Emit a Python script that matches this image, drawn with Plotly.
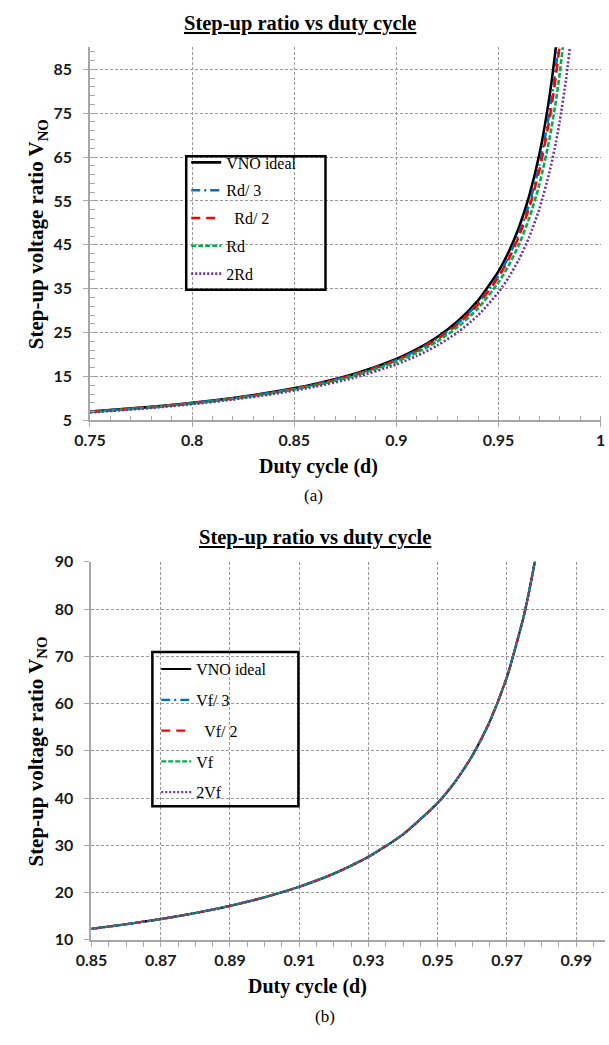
import plotly.graph_objects as go

# ---------------- data: panel (a) ----------------
d_a = [0.75, 0.78, 0.80, 0.82, 0.84, 0.86, 0.88, 0.90, 0.91, 0.92, 0.93, 0.94,
       0.95, 0.955, 0.96, 0.965, 0.97, 0.975, 0.978, 0.98, 0.983, 0.986, 0.99]
vno_ideal_a = [7.00, 8.09, 9.00, 10.11, 11.50, 13.29, 15.67, 19.00, 21.22, 24.00, 27.57, 32.33,
               39.00, 43.44, 49.00, 56.14, 65.67, 79.00, 89.91, 99.00, 116.6, 141.9, 199.0]
rd_third = [6.97, 8.05, 8.95, 10.05, 11.42, 13.18, 15.52, 18.78, 20.95, 23.65, 27.12, 31.72,
            38.11, 42.34, 47.61, 54.33, 63.20, 75.47, 85.37, 93.53, 109.1, 130.9, 178.2]
rd_half = [6.95, 8.03, 8.92, 10.01, 11.38, 13.12, 15.44, 18.67, 20.82, 23.49, 26.90, 31.42,
           37.68, 41.82, 46.95, 53.47, 62.05, 73.83, 83.28, 91.03, 105.8, 126.1, 169.4]
rd_one = [6.90, 7.96, 8.85, 9.92, 11.25, 12.96, 15.22, 18.36, 20.43, 22.99, 26.26, 30.55,
          36.45, 40.31, 45.06, 51.04, 58.81, 69.30, 77.57, 84.26, 96.73, 113.5, 147.4]
rd_double = [6.81, 7.84, 8.70, 9.73, 11.02, 12.65, 14.80, 17.76, 19.69, 22.07, 25.07, 28.96,
             34.21, 37.60, 41.70, 46.79, 53.24, 61.72, 68.21, 73.33, 82.63, 94.57, 117.1]

# ---------------- data: panel (b) ----------------
d_b = [0.85, 0.86, 0.87, 0.88, 0.89, 0.90, 0.91, 0.92, 0.93, 0.94, 0.95, 0.955,
       0.96, 0.965, 0.97, 0.975, 0.978, 0.98]
vno_ideal_b = [12.33, 13.29, 14.38, 15.67, 17.18, 19.00, 21.22, 24.00, 27.57, 32.33, 39.00, 43.44,
               49.00, 56.14, 65.67, 79.00, 89.91, 99.00]
vf_third = [12.33, 13.29, 14.38, 15.67, 17.18, 19.00, 21.22, 24.00, 27.57, 32.33, 39.00, 43.44,
            49.00, 56.14, 65.66, 78.99, 89.90, 98.99]
vf_half = [12.33, 13.29, 14.38, 15.67, 17.18, 19.00, 21.22, 24.00, 27.57, 32.33, 38.99, 43.43,
           48.99, 56.13, 65.65, 78.98, 89.89, 98.98]
vf_one = [12.32, 13.28, 14.37, 15.66, 17.17, 18.99, 21.21, 23.99, 27.56, 32.32, 38.98, 43.42,
          48.98, 56.12, 65.63, 78.96, 89.86, 98.95]
vf_double = [12.31, 13.27, 14.36, 15.65, 17.16, 18.98, 21.20, 23.98, 27.55, 32.30, 38.96, 43.40,
             48.95, 56.09, 65.60, 78.92, 89.81, 98.90]

names_a = ["VNO ideal", "Rd/ 3", "\u00a0\u00a0Rd/ 2", "Rd", "2Rd"]
names_b = ["VNO ideal", "Vf/ 3", "\u00a0\u00a0Vf/ 2", "Vf", "2Vf"]

colors = ["#000000", "#0070C0", "#FF0000", "#00B050", "#7030A0"]
dashes = ["solid", "9px,4px,2px,4px", "9px,6px", "5px,2px", "2px,2px"]

W, H = 609, 1045

fig = go.Figure()

series_a = [vno_ideal_a, rd_third, rd_half, rd_one, rd_double]
series_b = [vno_ideal_b, vf_third, vf_half, vf_one, vf_double]

for i, (nm, ys) in enumerate(zip(names_a, series_a)):
    fig.add_trace(go.Scatter(
        x=d_a, y=ys, name=nm, mode="lines", xaxis="x", yaxis="y",
        line=dict(color=colors[i], width=2.6, dash=dashes[i], shape="spline", smoothing=0.6),
        legend="legend", legendgroup="a%d" % i))

for i, (nm, ys) in enumerate(zip(names_b, series_b)):
    fig.add_trace(go.Scatter(
        x=d_b, y=ys, name=nm, mode="lines", xaxis="x2", yaxis="y2",
        line=dict(color=colors[i], width=2.2, dash=dashes[i], shape="spline", smoothing=0.6),
        legend="legend2", legendgroup="b%d" % i))

tickfont = dict(family="Lato", size=16, color="#1a1a1a", weight="bold")
gridc = "#9a9a9a"
axc = "#a6a6a6"

def px_x(p):
    return p / W

def px_y(p):
    return 1 - p / H

common = dict(showgrid=True, gridcolor=gridc, griddash="3px,2px", gridwidth=1,
              zeroline=False, showline=True, linecolor=axc, ticks="outside",
              tickcolor=axc, ticklen=5, tickfont=tickfont, fixedrange=True,
              ticklabeloverflow="allow")

fig.update_layout(
    width=W, height=H,
    margin=dict(l=0, r=0, t=0, b=0),
    paper_bgcolor="white", plot_bgcolor="white",
    xaxis=dict(domain=[px_x(76.5), px_x(605)], range=[0.75, 1.0002], tick0=0.75, dtick=0.05,
               anchor="y", linewidth=1.5,
               minor=dict(dtick=0.01, ticks="inside", ticklen=5, tickcolor=axc, showgrid=False),
               **common),
    yaxis=dict(domain=[px_y(418), px_y(38)], range=[5, 90], tick0=5, dtick=10,
               anchor="x", linewidth=1.5, ticklabelstandoff=8,
               minor=dict(dtick=2, tick0=5, ticks="inside", ticklen=5, tickcolor=axc, showgrid=False),
               **common),
    xaxis2=dict(domain=[px_x(78), 1.0], range=[0.85, 0.9983], tick0=0.85, dtick=0.02,
                anchor="y2", linewidth=2,
                minor=dict(dtick=0.005, ticks="outside", ticklen=5, tickcolor=axc, showgrid=False),
                **common),
    yaxis2=dict(domain=[px_y(947), px_y(562)], range=[10, 90], tick0=10, dtick=10,
                anchor="x2", linewidth=2, ticklabelstandoff=8, **common),
    showlegend=True,
    legend=dict(x=px_x(176), y=px_y(138), xanchor="left", yanchor="top",
                bgcolor="rgba(0,0,0,0)", borderwidth=0, tracegroupgap=4,
                traceorder="grouped",
                font=dict(family="Liberation Serif", size=16, color="#000")),
    legend2=dict(x=px_x(145), y=px_y(654), xanchor="left", yanchor="top",
                 bgcolor="rgba(0,0,0,0)", borderwidth=0, tracegroupgap=7,
                 traceorder="grouped",
                 font=dict(family="Liberation Serif", size=16, color="#000")),
)

# legend frames
fig.add_shape(type="rect", xref="paper", yref="paper",
              x0=px_x(176), x1=px_x(320), y0=px_y(285), y1=px_y(149),
              line=dict(color="black", width=2.5), fillcolor="rgba(0,0,0,0)", layer="above")
fig.add_shape(type="rect", xref="paper", yref="paper",
              x0=px_x(141), x1=px_x(292), y0=px_y(811), y1=px_y(654),
              line=dict(color="black", width=2.5), fillcolor="rgba(0,0,0,0)", layer="above")

serif = "Liberation Serif"
ann = [
    (294, 14, "<b><u>Step-up ratio vs duty cycle</u></b>", 20.5, 0),
    (309, 537, "<b><u>Step-up ratio vs duty cycle</u></b>", 20.5, 0),
    (22, 228, "<b>Step-up voltage ratio V<sub>NO</sub></b>", 21, -90),
    (22, 755, "<b>Step-up voltage ratio V<sub>NO</sub></b>", 21, -90),
    (313, 465, "<b>Duty cycle (d)</b>", 20, 0),
    (301, 995, "<b>Duty cycle (d)</b>", 20, 0),
    (308, 494, "(a)", 17, 0),
    (320, 1025, "(b)", 17, 0),
]
for (x, y, t, s, ang) in ann:
    fig.add_annotation(x=px_x(x), y=px_y(y), xref="paper", yref="paper", text=t,
                       showarrow=False, textangle=ang, xanchor="center", yanchor="middle",
                       font=dict(family=serif, size=s, color="#000"))

fig.write_html("out.html")
